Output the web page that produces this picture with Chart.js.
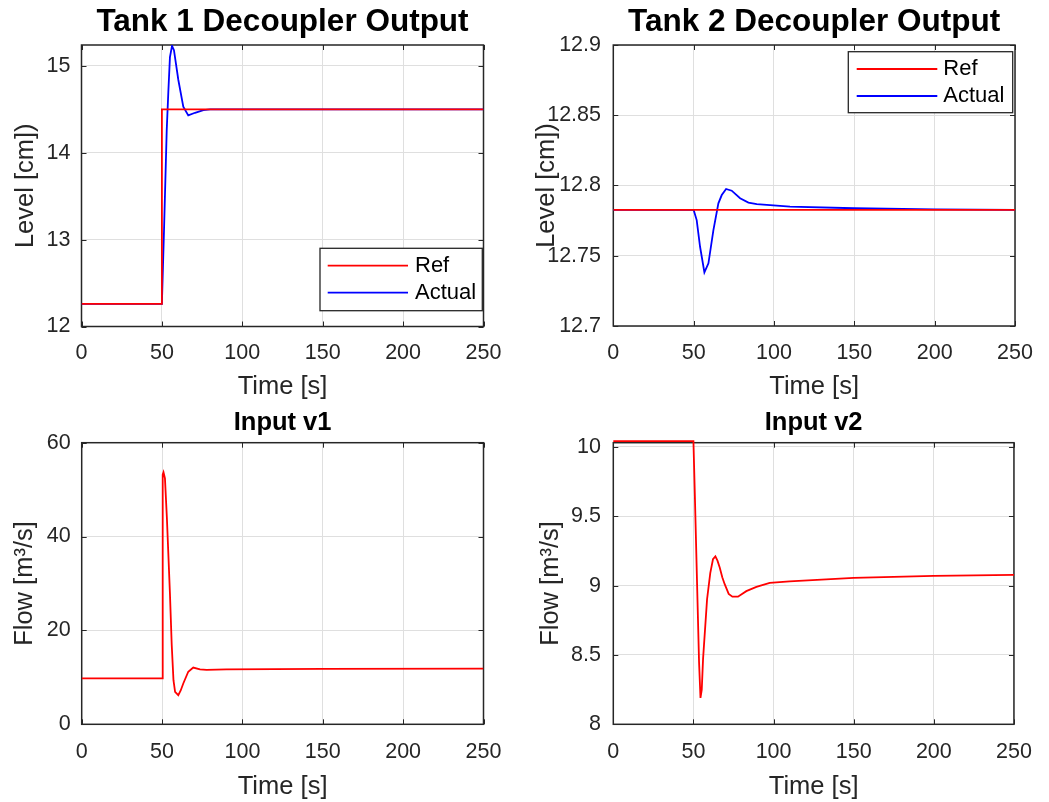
<!DOCTYPE html>
<html><head><meta charset="utf-8">
<script src="https://cdn.jsdelivr.net/npm/chart.js@4.4.1/dist/chart.umd.min.js"></script>
<style>
html,body{margin:0;padding:0;background:#fff;width:1049px;height:802px;overflow:hidden;}
canvas{position:absolute;}
</style></head><body>
<canvas id="c1" width="524" height="401" style="left:0px;top:0px;width:524px;height:401px"></canvas>
<canvas id="c2" width="525" height="401" style="left:524px;top:0px;width:525px;height:401px"></canvas>
<canvas id="c3" width="524" height="401" style="left:0px;top:401px;width:524px;height:401px"></canvas>
<canvas id="c4" width="525" height="401" style="left:524px;top:401px;width:525px;height:401px"></canvas>
<script>
// ---------- data ----------
const timeTicks = [0, 50, 100, 150, 200, 250];
const timeTickLabels = ['0', '50', '100', '150', '200', '250'];

const tank1RefTime  = [0, 50, 50, 250];
const tank1RefLevel = [12.26, 12.26, 14.5, 14.5];
const tank1ActTime  = [0, 50, 51.3, 53, 54, 55, 56.3, 57.5, 60.2, 63.3, 66.4, 70.6, 75.8, 80, 250];
const tank1ActLevel = [12.26, 12.26, 13.1, 14.26, 14.7, 15.1, 15.23, 15.18, 14.84, 14.53, 14.43, 14.46, 14.49, 14.5, 14.5];
const tank1Ticks = [12, 13, 14, 15];
const tank1TickLabels = ['12', '13', '14', '15'];

const tank2RefTime  = [0, 250];
const tank2RefLevel = [12.7826, 12.7826];
const tank2ActTime  = [0, 50, 51.9, 54, 56.7, 59.2, 62.3, 65.4, 67.5, 70.2, 73.7, 78.9, 84.1, 89.3, 110, 150, 200, 250];
const tank2ActLevel = [12.7826, 12.7826, 12.7754, 12.7564, 12.7382, 12.7446, 12.7683, 12.7873, 12.7932, 12.7975, 12.7963, 12.7909, 12.7878, 12.7868, 12.785, 12.7838, 12.783, 12.7827];
const tank2Ticks = [12.7, 12.75, 12.8, 12.85, 12.9];
const tank2TickLabels = ['12.7', '12.75', '12.8', '12.85', '12.9'];

const v1Time = [0, 50, 50.4, 50.9, 51.8, 53, 54.9, 56, 57.1, 58.1, 60.1, 61.6, 63.2, 66.3, 69.4, 73.6, 77.7, 90, 150, 250];
const v1Flow = [9.8, 9.8, 53.2, 53.7, 52.4, 44, 27.9, 17, 9.4, 6.9, 6.2, 7.2, 8.7, 11.2, 12.1, 11.7, 11.6, 11.7, 11.8, 11.85];
const v1Ticks = [0, 20, 40, 60];
const v1TickLabels = ['0', '20', '40', '60'];

const v2Time = [0, 50, 51, 52.3, 53.5, 54.4, 55.2, 56, 58.5, 60.5, 62.2, 63.7, 65, 66.4, 68, 69.5, 72, 74.3, 77.8, 83, 89.3, 97.6, 110, 150, 200, 250];
const v2Flow = [10.041, 10.041, 9.6, 9.0, 8.45, 8.19, 8.25, 8.47, 8.9, 9.09, 9.19, 9.21, 9.18, 9.13, 9.06, 9.01, 8.94, 8.92, 8.92, 8.96, 8.99, 9.02, 9.03, 9.055, 9.07, 9.077];
const v2Ticks = [8, 8.5, 9, 9.5, 10];
const v2TickLabels = ['8', '8.5', '9', '9.5', '10'];

// ---------- helpers ----------
const FONT = '"Liberation Sans", Arial, Helvetica, sans-serif';
const TICK_SIZE = 21.5;
const pts = (xs, ys) => xs.map((x, i) => ({x: x, y: ys[i]}));

const frame = {
  id: 'frame',
  beforeDatasetsDraw(chart) {
    const {ctx, chartArea: ca, scales} = chart;
    ctx.save();
    ctx.strokeStyle = '#262626';
    ctx.lineWidth = 1;
    const tl = 5;
    ctx.beginPath();
    scales.x.ticks.forEach(t => {
      const px = Math.round(scales.x.getPixelForValue(t.value)) + 0.5;
      ctx.moveTo(px, ca.bottom); ctx.lineTo(px, ca.bottom - tl);
      ctx.moveTo(px, ca.top); ctx.lineTo(px, ca.top + tl);
    });
    scales.y.ticks.forEach(t => {
      const py = Math.round(scales.y.getPixelForValue(t.value)) + 0.5;
      ctx.moveTo(ca.left, py); ctx.lineTo(ca.left + tl, py);
      ctx.moveTo(ca.right, py); ctx.lineTo(ca.right - tl, py);
    });
    ctx.stroke();
    ctx.lineWidth = 1.5;
    ctx.strokeRect(ca.left, ca.top, ca.right - ca.left, ca.bottom - ca.top);
    ctx.restore();
  }
};

const boxLegend = {
  id: 'boxLegend',
  afterDraw(chart, args, o) {
    if (!o || !o.show) return;
    const {ctx, chartArea: ca} = chart;
    const x = ca.right - o.inset - o.w;
    const y = o.corner === 'top' ? ca.top + o.dy : ca.bottom - o.dy - o.h;
    ctx.save();
    ctx.fillStyle = '#fff';
    ctx.fillRect(x, y, o.w, o.h);
    ctx.strokeStyle = '#262626';
    ctx.lineWidth = 1.3;
    ctx.strokeRect(x, y, o.w, o.h);
    ctx.font = '22px ' + FONT;
    ctx.textBaseline = 'middle';
    ctx.textAlign = 'left';
    chart.data.datasets.forEach((ds, i) => {
      const ly = y + o.rowY[i];
      ctx.strokeStyle = ds.borderColor;
      ctx.lineWidth = ds.borderWidth;
      ctx.beginPath(); ctx.moveTo(x + o.lineX0, ly); ctx.lineTo(x + o.lineX1, ly); ctx.stroke();
      ctx.fillStyle = '#000';
      ctx.fillText(ds.label, x + o.textX, ly);
    });
    ctx.restore();
  }
};

function makeChart(id, c) {
  return new Chart(document.getElementById(id), {
    type: 'line',
    data: {datasets: c.datasets},
    plugins: [frame, boxLegend],
    options: {
      responsive: false, animation: false, devicePixelRatio: 1,
      layout: {padding: {left: 0, right: c.padRight, top: 0, bottom: 0}},
      elements: {point: {radius: 0}, line: {tension: 0}},
      plugins: {
        legend: {display: false}, tooltip: {enabled: false},
        title: {display: true, text: c.title, fullSize: false, color: '#000',
          font: {family: FONT, size: c.titleSize, weight: 'bold', lineHeight: 1},
          padding: {top: c.titlePadTop, bottom: c.titlePadBottom}},
        boxLegend: c.legend || {show: false}
      },
      scales: {
        x: {
          type: 'linear', min: 0, max: 250,
          afterBuildTicks: s => { s.ticks = timeTicks.map(v => ({value: v})); },
          afterFit: s => { s.height = c.xHeight; },
          grid: {color: '#dfdfdf', lineWidth: 1, drawTicks: false},
          border: {display: false},
          ticks: {autoSkip: false, maxRotation: 0, padding: c.xTickPad, color: '#262626',
            font: {family: FONT, size: TICK_SIZE, lineHeight: 1},
            callback: (v, i) => timeTickLabels[i]},
          title: {display: true, text: 'Time [s]', color: '#262626',
            font: {family: FONT, size: 25.5, lineHeight: 1},
            padding: {top: 0, bottom: c.xTitlePad}}
        },
        y: {
          type: 'linear', min: c.yMin, max: c.yMax,
          afterBuildTicks: s => { s.ticks = c.yTicks.map(v => ({value: v})); },
          afterFit: s => { s.width = c.yWidth; },
          grid: {color: '#dfdfdf', lineWidth: 1, drawTicks: false},
          border: {display: false},
          ticks: {padding: c.yTickPad, color: '#262626',
            font: {family: FONT, size: TICK_SIZE, lineHeight: 1},
            callback: (v, i) => c.yTickLabels[i]},
          title: {display: true, text: c.yTitle, color: '#262626',
            font: {family: FONT, size: 25.5, lineHeight: 1},
            padding: {top: c.yTitlePad, bottom: 0}}
        }
      }
    }
  });
}

const RED = '#ff0000', BLUE = '#0000ff', LW = 1.8;

makeChart('c1', {
  title: 'Tank 1 Decoupler Output', titleSize: 31.5, titlePadTop: 6.45, titlePadBottom: 7.05,
  padRight: 40.5, yWidth: 81.5, xHeight: 74.5, xTickPad: 16, xTitlePad: 1.25, yTickPad: 11, yTitlePad: 12.75,
  yMin: 12, yMax: 15.24, yTicks: tank1Ticks, yTickLabels: tank1TickLabels, yTitle: 'Level [cm])',
  datasets: [
    {label: 'Ref', data: pts(tank1RefTime, tank1RefLevel), borderColor: RED, borderWidth: LW, pointRadius: 0},
    {label: 'Actual', data: pts(tank1ActTime, tank1ActLevel), borderColor: BLUE, borderWidth: LW, pointRadius: 0}
  ],
  legend: {show: true, corner: 'bottom', inset: 1.2, dy: 15.8, w: 162.3, h: 62.4, rowY: [17.4, 44.4], lineX0: 7.7, lineX1: 88, textX: 95}
});

makeChart('c2', {
  title: 'Tank 2 Decoupler Output', titleSize: 31.5, titlePadTop: 6.45, titlePadBottom: 7.05,
  padRight: 34, yWidth: 89.3, xHeight: 75, xTickPad: 16, xTitlePad: 1.25, yTickPad: 12.3, yTitlePad: 10.25,
  yMin: 12.7, yMax: 12.9, yTicks: tank2Ticks, yTickLabels: tank2TickLabels, yTitle: 'Level [cm])',
  datasets: [
    {label: 'Ref', data: pts(tank2RefTime, tank2RefLevel), borderColor: RED, borderWidth: LW, pointRadius: 0},
    {label: 'Actual', data: pts(tank2ActTime, tank2ActLevel), borderColor: BLUE, borderWidth: LW, pointRadius: 0}
  ],
  legend: {show: true, corner: 'top', inset: 2.3, dy: 6.7, w: 164.4, h: 61, rowY: [17.3, 44.3], lineX0: 8.4, lineX1: 89, textX: 95}
});

makeChart('c3', {
  title: 'Input v1', titleSize: 25.5, titlePadTop: 8.95, titlePadBottom: 7.25,
  padRight: 40.5, yWidth: 81.7, xHeight: 77.7, xTickPad: 17.1, xTitlePad: 2.75, yTickPad: 11, yTitlePad: 12.25,
  yMin: 0, yMax: 60, yTicks: v1Ticks, yTickLabels: v1TickLabels, yTitle: 'Flow [m³/s]',
  datasets: [
    {label: 'v1', data: pts(v1Time, v1Flow), borderColor: RED, borderWidth: LW, pointRadius: 0}
  ]
});

makeChart('c4', {
  title: 'Input v2', titleSize: 25.5, titlePadTop: 8.95, titlePadBottom: 7.25,
  padRight: 34, yWidth: 89.3, xHeight: 77.7, xTickPad: 17.1, xTitlePad: 2.75, yTickPad: 12.3, yTitlePad: 14.25,
  yMin: 8, yMax: 10.03, yTicks: v2Ticks, yTickLabels: v2TickLabels, yTitle: 'Flow [m³/s]',
  datasets: [
    {label: 'v2', data: pts(v2Time, v2Flow), borderColor: RED, borderWidth: LW, pointRadius: 0, clip: 4}
  ]
});
</script>
</body></html>
